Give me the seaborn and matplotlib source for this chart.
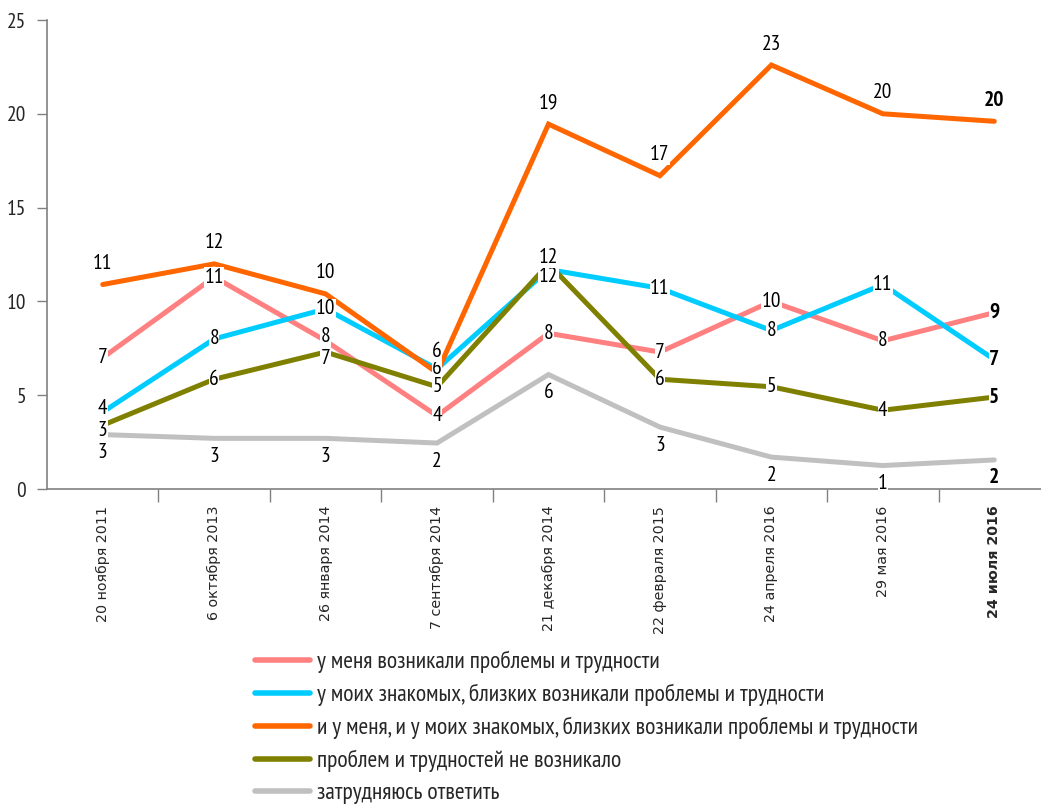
import matplotlib
matplotlib.use("Agg")
import matplotlib.pyplot as plt
from matplotlib.lines import Line2D
from matplotlib import font_manager as fm
import seaborn as sns
import numpy as np
import pandas as pd

dates = ['20 ноября 2011', '6 октября 2013', '26 января 2014', '7 сентября 2014',
         '21 декабря 2014', '22 февраля 2015', '24 апреля 2016', '29 мая 2016',
         '24 июля 2016']
series_names = ['у меня возникали проблемы и трудности',
                'у моих знакомых, близких возникали проблемы и трудности',
                'и у меня, и у моих знакомых, близких возникали проблемы и трудности',
                'проблем и трудностей не возникало',
                'затрудняюсь ответить']
me = [7.0, 11.3, 7.9, 3.9, 8.3, 7.3, 10.0, 7.9, 9.4]
acquaint = [4.1, 8.0, 9.6, 6.4, 11.7, 10.7, 8.45, 10.9, 6.9]
both = [10.9, 12.0, 10.4, 6.2, 19.45, 16.7, 22.6, 20.0, 19.6]
no_problems = [3.4, 5.85, 7.3, 5.45, 12.0, 5.85, 5.45, 4.2, 4.9]
hard_to_say = [2.9, 2.7, 2.7, 2.45, 6.1, 3.3, 1.7, 1.25, 1.55]
colors = ['#FF8080', '#00CCFF', '#FF6600', '#808000', '#C0C0C0']
yticks = [0, 5, 10, 15, 20, 25]

values = [me, acquaint, both, no_problems, hard_to_say]
label_offsets = [0, 0, 21, 0, -18]  # pixels (positive = up), per series
# small nudges (series index, point index) -> pixels (positive = up)
nudges = {(1, 4): -7, (3, 4): 6, (0, 2): 4, (3, 2): -6, (1, 0): 4, (3, 0): -5}

sns.set_theme(style="white")
available = {f.name for f in fm.fontManager.ttflist}
narrow = None
for cand in ['PT Sans Narrow', 'Roboto Condensed', 'Fira Sans Condensed',
             'Open Sans Condensed', 'Ubuntu Condensed', 'Liberation Sans Narrow',
             'Archivo Narrow', 'Roboto']:
    if cand in available:
        narrow = cand
        break
NARROW = [narrow, 'DejaVu Sans'] if narrow else ['DejaVu Sans']
plt.rcParams['font.family'] = NARROW

fig = plt.figure(figsize=(10.41, 8.05), dpi=100)
ax = fig.add_axes([47/1041, (805-489)/805, (1050-47)/1041, (489-20)/805])

pos = np.arange(len(dates))
rows = []
for name, vals in zip(series_names, values):
    for p, v in zip(pos, vals):
        rows.append({'pos': p, 'value': v, 'series': name})
df = pd.DataFrame(rows)
palette = dict(zip(series_names, colors))

sns.lineplot(data=df, x='pos', y='value', hue='series', hue_order=series_names,
             palette=palette, linewidth=3.6, legend=False, ax=ax, sort=False)
for ln in ax.lines:
    ln.set_solid_capstyle('round')
    ln.set_solid_joinstyle('miter')

# data labels
for si, (vals, off) in enumerate(zip(values, label_offsets)):
    for i, (p, v) in enumerate(zip(pos, vals)):
        lab = str(int(np.floor(v + 0.5)))
        dy = off + nudges.get((si, i), 0)
        ax.annotate(lab, (p, v), xytext=(0, dy), textcoords='offset pixels',
                    ha='center', va='center', fontsize=15.5, color='black',
                    fontweight='bold' if i == len(pos) - 1 else 'normal',
                    bbox=dict(boxstyle='square,pad=0.02', fc='white', ec='none'),
                    zorder=10, annotation_clip=False)

ax.set_xlim(-0.5, len(dates) - 0.5)
ax.set_ylim(0, 25)
ax.set_yticks(yticks)
ax.set_yticklabels([str(t) for t in yticks], fontsize=15.5)
ax.set_xticks(pos[:-1] + 0.5)
ax.set_xticklabels([])
ax.set_xticks(pos, minor=True)
ax.set_xticklabels(dates, minor=True, rotation=90, fontsize=10.3,
                   family=['DejaVu Sans'])
ax.get_xticklabels(minor=True)[-1].set_fontweight('bold')
ax.tick_params(axis='x', which='major', direction='out', length=9, width=1,
               color='#808080', bottom=True)
ax.tick_params(axis='x', which='minor', length=0, pad=12, bottom=True)
ax.tick_params(axis='y', direction='out', length=7, width=1, color='#808080',
               left=True, pad=8)
ax.set_xlabel('')
ax.set_ylabel('')
for s in ['top', 'right']:
    ax.spines[s].set_visible(False)
for s in ['left', 'bottom']:
    ax.spines[s].set_color('#808080')
    ax.spines[s].set_linewidth(1.2)

handles = [Line2D([0], [0], color=c, lw=4, solid_capstyle='round') for c in colors]
fig.legend(handles, series_names, loc='upper left',
           bbox_to_anchor=(255/1041, 1 - 651/805), frameon=False,
           fontsize=17, handlelength=2.35, handletextpad=0.28,
           labelspacing=0.45, borderpad=0, borderaxespad=0)

fig.savefig('out.png', dpi=100)
